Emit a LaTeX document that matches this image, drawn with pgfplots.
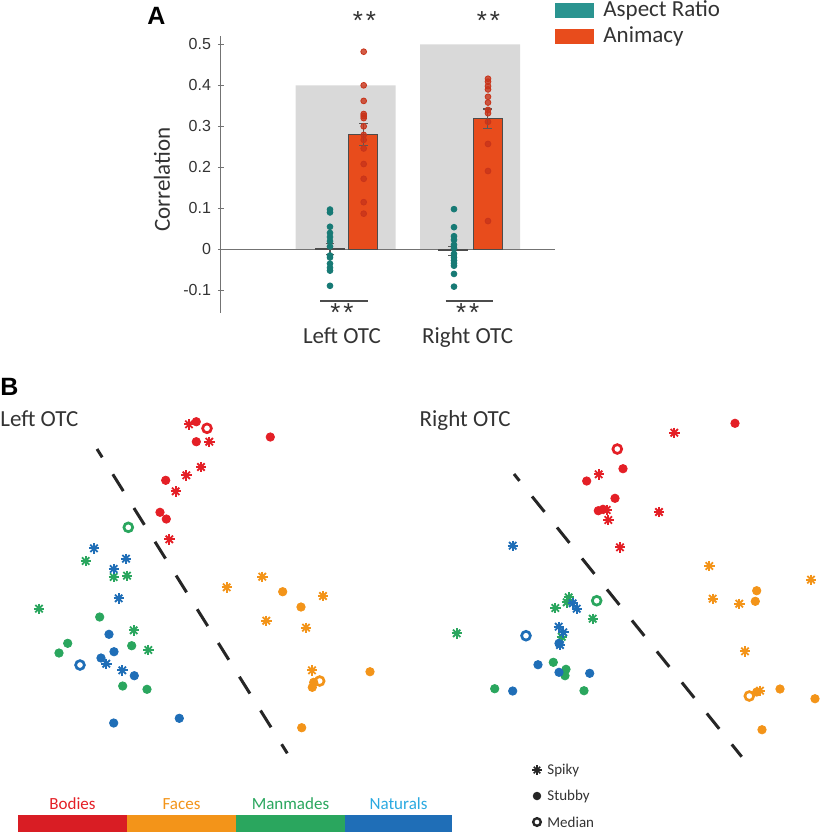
\documentclass[border=0pt]{standalone}
\usepackage{pgfplots}
\pgfplotsset{compat=1.18}
\usepackage{fontspec}
\setmainfont{Carlito}
\newfontfamily\arialf{Liberation Sans}
\definecolor{legteal}{HTML}{2A9490}
\definecolor{dotteal}{HTML}{177A75}
\definecolor{barred}{HTML}{E84C1C}
\definecolor{dotred}{HTML}{C8341A}
\definecolor{cred}{HTML}{E41F26}
\definecolor{corange}{HTML}{F39419}
\definecolor{cgreen}{HTML}{2AA65E}
\definecolor{cblue}{HTML}{1F6EB7}
\definecolor{txt}{HTML}{333333}
\pgfplotsset{
  spk/.style={only marks, mark size=2.6pt, mark options={line width=0.9pt}},
  stb/.style={only marks, mark=*, mark size=2.1pt, mark options={draw=none}},
  med/.style={only marks, mark=o, mark size=2.2pt, mark options={line width=1.35pt, fill=white}},
}
\begin{document}
\begin{tikzpicture}
\useasboundingbox (0pt,0pt) rectangle (410pt,-416pt);
% ---------------- Panel A ----------------
\begin{axis}[
  at={(110.5pt,-156.43pt)}, anchor=south west,
  scale only axis, width=167pt, height=138.375pt,
  xmin=221, xmax=555, ymin=-0.155, ymax=0.52,
  axis x line=none, axis y line*=left,
  axis line style={-, draw=black!55, line width=0.5pt},
  ytick={-0.1,0,0.1,0.2,0.3,0.4,0.5},
  tick align=center, major tick length=3pt,
  tick style={draw=black!55, line width=0.5pt},
  /pgf/number format/assume math mode=true,
  yticklabel style={font=\arialf\fontsize{8pt}{9pt}\selectfont, text=txt,
    /pgf/number format/fixed, /pgf/number format/precision=1},
  clip=false,
]
\addplot[ybar, bar width=100, bar shift=0pt, fill=black!15, draw=none] coordinates {(345.7,0.4) (470,0.5)};
\addplot[black!55, line width=0.6pt] coordinates {(221,0) (555,0)};
\addplot[ybar, bar width=29, bar shift=0pt, fill=legteal, draw=black!70, line width=0.5pt] coordinates {(330,0.001) (452.5,-0.004)};
\addplot[ybar, bar width=29, bar shift=0pt, fill=barred, draw=black!70, line width=0.5pt] coordinates {(363.5,0.28) (487.5,0.318)};
% individual dots
\addplot[only marks, mark=*, mark size=1.45pt, color=dotteal, mark options={draw=none}] coordinates {
(330,0.097) (330,0.09) (330,0.055) (330,0.04) (330,0.03) (330,0.02) (330,0.007)
(330,-0.015) (330,-0.02) (330,-0.035) (330,-0.045) (330,-0.052) (330,-0.089)};
\addplot[only marks, mark=*, mark size=1.45pt, color=dotteal, mark options={draw=none}] coordinates {
(454,0.098) (454,0.054) (454,0.032) (454,0.023) (454,0.011) (454,0.003) (454,-0.011)
(454,-0.02) (454,-0.027) (454,-0.034) (454,-0.04) (454,-0.06) (454,-0.091)};
\addplot[only marks, mark=*, mark size=1.45pt, color=dotred, mark options={draw=none, fill opacity=0.8}] coordinates {
(363.7,0.482) (363.7,0.40) (363.7,0.362) (363.7,0.33) (363.7,0.325) (363.7,0.32) (363.7,0.30)
(363.7,0.279) (363.7,0.267) (363.7,0.246) (363.7,0.208) (363.7,0.172) (363.7,0.115) (363.7,0.087)};
\addplot[only marks, mark=*, mark size=1.45pt, color=dotred, mark options={draw=none, fill opacity=0.8}] coordinates {
(488,0.416) (488,0.409) (488,0.398) (488,0.39) (488,0.372) (488,0.358) (488,0.34)
(488,0.332) (488,0.311) (488,0.257) (488,0.191) (488,0.069)};
% error bars
\addplot[draw=none, mark=none, error bars/.cd, y dir=both, y explicit,
  error bar style={draw=black!65, line width=0.6pt},
  error mark options={draw=black!65, rotate=90, mark size=2.2pt, line width=0.6pt}] coordinates {
(330,0.001) +- (0,0.013) (452.5,-0.0045) +- (0,0.0115) (363.5,0.28) +- (0,0.027) (487.5,0.318) +- (0,0.024)};
\end{axis}
% ---------------- Overlay (pixel coordinates) ----------------
\begin{axis}[
  at={(0pt,0pt)}, anchor=north west,
  scale only axis, width=410pt, height=416pt,
  xmin=0, xmax=820, ymin=0, ymax=832, y dir=reverse,
  hide axis, clip=false,
]
% Panel A texts
\node[font=\arialf\bfseries\fontsize{12.5pt}{14pt}\selectfont, anchor=base west, inner sep=0pt] at (axis cs:147,24) {A};
\node[font=\fontsize{11.5pt}{13pt}\selectfont, text=txt, rotate=90] at (axis cs:162,179.5) {Correlation};
\node[font=\fontsize{11.5pt}{13pt}\selectfont, text=txt, anchor=base] at (axis cs:342,343) {Left OTC};
\node[font=\fontsize{11.5pt}{13pt}\selectfont, text=txt, anchor=base] at (axis cs:467.7,343) {Right OTC};
\node[font=\arialf\fontsize{13pt}{14pt}\selectfont, text=txt] at (axis cs:364.5,21) {*\kern1.5pt*};
\node[font=\arialf\fontsize{13pt}{14pt}\selectfont, text=txt] at (axis cs:488.5,21) {*\kern1.5pt*};
\node[font=\arialf\fontsize{13pt}{14pt}\selectfont, text=txt] at (axis cs:342,313) {*\kern1.5pt*};
\node[font=\arialf\fontsize{13pt}{14pt}\selectfont, text=txt] at (axis cs:467.7,313) {*\kern1.5pt*};
\addplot[black!70, line width=0.7pt] coordinates {(320,301) (368,301)};
\addplot[black!70, line width=0.7pt] coordinates {(445.7,301) (493,301)};
% Panel A legend
\addplot[fill=legteal, draw=none] coordinates {(555,3) (594,3) (594,18) (555,18)} -- cycle;
\addplot[fill=barred, draw=none] coordinates {(555,29) (594,29) (594,44) (555,44)} -- cycle;
\node[font=\fontsize{11.5pt}{13pt}\selectfont, text=txt, anchor=west, inner sep=0pt] at (axis cs:603,10.5) {Aspect Ratio};
\node[font=\fontsize{11.5pt}{13pt}\selectfont, text=txt, anchor=west, inner sep=0pt] at (axis cs:603,36.5) {Animacy};
% Panel B texts
\node[font=\arialf\bfseries\fontsize{12.5pt}{14pt}\selectfont, anchor=base west, inner sep=0pt] at (axis cs:0,395) {B};
\node[font=\fontsize{11.5pt}{13pt}\selectfont, text=txt, anchor=base west, inner sep=0pt] at (axis cs:0,426.7) {Left OTC};
\node[font=\fontsize{11.5pt}{13pt}\selectfont, text=txt, anchor=base west, inner sep=0pt] at (axis cs:419.3,426.7) {Right OTC};
% dashed boundaries
\addplot[black!85, line width=1.5pt, dash pattern=on 9.9pt off 10pt, dash phase=5pt] coordinates {(97,449) (287.3,753.3)};
\addplot[black!85, line width=1.5pt, dash pattern=on 9.9pt off 10pt, dash phase=5.5pt] coordinates {(514,474) (741.7,756.7)};
% ---- Left OTC scatter ----
% Bodies
\addplot[spk, color=cred, mark=+] coordinates {(189,424.3) (209.3,441.7) (201,467) (186.3,475.3) (175.7,491.3) (169.3,539.3)};
\addplot[spk, color=cred, mark=x] coordinates {(189,424.3) (209.3,441.7) (201,467) (186.3,475.3) (175.7,491.3) (169.3,539.3)};
\addplot[stb, color=cred] coordinates {(196.3,421.7) (196.3,441.7) (270.3,437) (165.7,480.3) (160,512.3) (166.3,519)};
\addplot[med, color=cred] coordinates {(207,428.3)};
% Faces
\addplot[spk, color=corange, mark=+] coordinates {(226.7,587.3) (262.3,576.7) (323,596) (266.3,620.7) (306,627.7) (312,670.3)};
\addplot[spk, color=corange, mark=x] coordinates {(226.7,587.3) (262.3,576.7) (323,596) (266.3,620.7) (306,627.7) (312,670.3)};
\addplot[stb, color=corange] coordinates {(282.7,591.7) (301,607) (370,671.7) (313.7,682.3) (312.3,687.3) (301.7,727.7)};
\addplot[med, color=corange] coordinates {(319.7,681)};
% Manmades
\addplot[spk, color=cgreen, mark=+] coordinates {(85.7,561) (113.7,577) (127,575.7) (39,608.7) (133.7,630.3) (148.3,650)};
\addplot[spk, color=cgreen, mark=x] coordinates {(85.7,561) (113.7,577) (127,575.7) (39,608.7) (133.7,630.3) (148.3,650)};
\addplot[stb, color=cgreen] coordinates {(99.7,617) (67.7,643.3) (59,653) (131.7,645.7) (122.7,686) (147,689.3)};
\addplot[med, color=cgreen] coordinates {(128.3,527.3)};
% Naturals
\addplot[spk, color=cblue, mark=+] coordinates {(94,548.3) (126,558.7) (113.7,569) (118.7,598.3) (106.3,663.7) (122.3,670.3)};
\addplot[spk, color=cblue, mark=x] coordinates {(94,548.3) (126,558.7) (113.7,569) (118.7,598.3) (106.3,663.7) (122.3,670.3)};
\addplot[stb, color=cblue] coordinates {(109,634.3) (114,651.7) (101,658) (134.3,675.7) (113.7,723) (179.3,718.3)};
\addplot[med, color=cblue] coordinates {(80,665)};
% ---- Right OTC scatter ----
\addplot[spk, color=cred, mark=+] coordinates {(674.3,432.7) (598.7,474.3) (659,512) (606.7,510) (608.3,520) (620,547.3)};
\addplot[spk, color=cred, mark=x] coordinates {(674.3,432.7) (598.7,474.3) (659,512) (606.7,510) (608.3,520) (620,547.3)};
\addplot[stb, color=cred] coordinates {(735,423.3) (623,468.7) (586.7,481) (615,498.3) (598.3,510.7) (603,509.3)};
\addplot[med, color=cred] coordinates {(617.3,449)};
\addplot[spk, color=corange, mark=+] coordinates {(709.3,566) (811,579.7) (712.7,598.7) (739.3,603.7) (745,651.3) (760,690.7)};
\addplot[spk, color=corange, mark=x] coordinates {(709.3,566) (811,579.7) (712.7,598.7) (739.3,603.7) (745,651.3) (760,690.7)};
\addplot[stb, color=corange] coordinates {(756.7,590.7) (755.3,601.3) (780,689) (815,698.7) (756.7,692) (762,729.7)};
\addplot[med, color=corange] coordinates {(749.3,696)};
\addplot[spk, color=cgreen, mark=+] coordinates {(456.7,633.3) (555.3,608) (568.7,597.3) (566.7,602.3) (592.7,618.7) (561.7,636.7)};
\addplot[spk, color=cgreen, mark=x] coordinates {(456.7,633.3) (555.3,608) (568.7,597.3) (566.7,602.3) (592.7,618.7) (561.7,636.7)};
\addplot[stb, color=cgreen] coordinates {(494.7,688.7) (553.3,662.3) (566,669.3) (565,675.7) (584,690.7)};
\addplot[med, color=cgreen] coordinates {(596.7,600.7)};
\addplot[spk, color=cblue, mark=+] coordinates {(512.7,545.7) (572.7,603.3) (576.7,608.7) (558.7,626.7) (563.3,632.3) (560,645)};
\addplot[spk, color=cblue, mark=x] coordinates {(512.7,545.7) (572.7,603.3) (576.7,608.7) (558.7,626.7) (563.3,632.3) (560,645)};
\addplot[stb, color=cblue] coordinates {(559,643.3) (538,664.7) (559,672.3) (512.7,691) (589.7,673.3)};
\addplot[med, color=cblue] coordinates {(526,635.7)};
% ---- colour key ----
\addplot[fill=cred!95!black, draw=none] coordinates {(18,815) (127,815) (127,832) (18,832)} -- cycle;
\addplot[fill=corange, draw=none] coordinates {(127,815) (236,815) (236,832) (127,832)} -- cycle;
\addplot[fill=cgreen, draw=none] coordinates {(236,815) (345,815) (345,832) (236,832)} -- cycle;
\addplot[fill=cblue, draw=none] coordinates {(345,815) (452,815) (452,832) (345,832)} -- cycle;
\node[font=\fontsize{8.5pt}{10pt}\selectfont, text=cred] at (axis cs:72.5,804) {Bodies};
\node[font=\fontsize{8.5pt}{10pt}\selectfont, text=corange] at (axis cs:181.5,804) {Faces};
\node[font=\fontsize{8.5pt}{10pt}\selectfont, text=cgreen] at (axis cs:290.5,804) {Manmades};
\node[font=\fontsize{8.5pt}{10pt}\selectfont, text={rgb,255:red,42;green,169;blue,224}] at (axis cs:398.5,804) {Naturals};
% ---- marker legend ----
\addplot[only marks, color=black!85, mark=+, mark size=2.3pt, mark options={line width=0.8pt}] coordinates {(537,770)};
\addplot[only marks, color=black!85, mark=x, mark size=2.3pt, mark options={line width=0.8pt}] coordinates {(537,770)};
\addplot[only marks, color=black!85, mark=*, mark size=1.9pt, mark options={draw=none}] coordinates {(537,796)};
\addplot[only marks, color=black!85, mark=o, mark size=1.9pt, mark options={line width=1.2pt}] coordinates {(537,822)};
\node[font=\fontsize{7.5pt}{9pt}\selectfont, text=txt, anchor=west, inner sep=0pt] at (axis cs:547,770) {Spiky};
\node[font=\fontsize{7.5pt}{9pt}\selectfont, text=txt, anchor=west, inner sep=0pt] at (axis cs:547,796) {Stubby};
\node[font=\fontsize{7.5pt}{9pt}\selectfont, text=txt, anchor=west, inner sep=0pt] at (axis cs:547,822) {Median};
\end{axis}
\end{tikzpicture}
\end{document}
